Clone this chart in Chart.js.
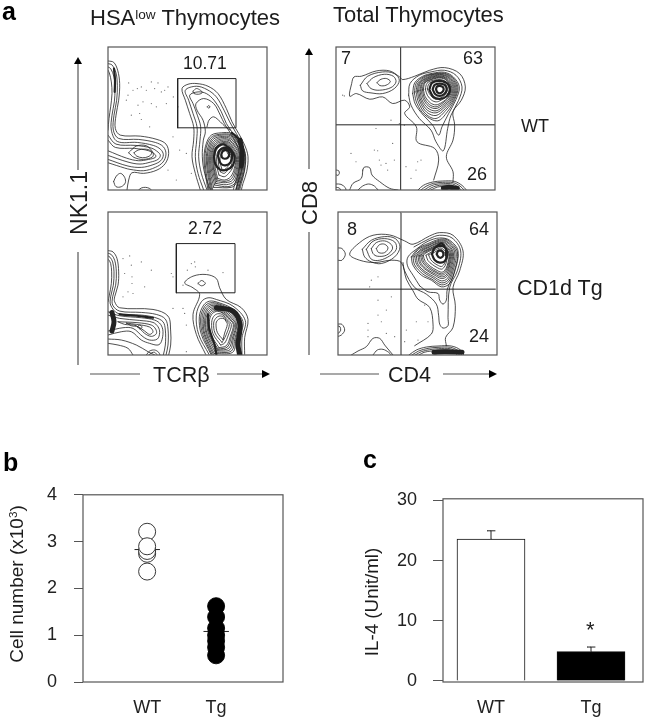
<!DOCTYPE html>
<html lang="en">
<head>
<meta charset="UTF-8">
<title>NK1.1 TCRb thymocytes</title>
<script src="https://cdn.jsdelivr.net/npm/chart.js"></script>
<style>
    html, body { margin: 0; background: #fff; }
    #page { position: relative; width: 655px; height: 719px; overflow: hidden; font-family: "Liberation Sans", Arial, sans-serif; color: #1c1c1c; }
    #page canvas { position: absolute; }
    #page svg { position: absolute; left: 0; top: 0; }
    .t { position: absolute; white-space: nowrap; line-height: 1; }
    .rot { transform: translate(-50%, -50%) rotate(-90deg); }
    .panel { font-weight: bold; font-size: 25px; color: #000; }
    sup { font-size: 0.62em; line-height: 0; vertical-align: 0.45em; }
</style>
</head>
<body>
<div id="page">
    <canvas id="p1" width="167" height="151" style="left:104px;top:43px"></canvas>
    <canvas id="p2" width="167" height="151" style="left:104px;top:208px"></canvas>
    <canvas id="p3" width="167" height="151" style="left:332px;top:43px"></canvas>
    <canvas id="p4" width="167" height="151" style="left:334px;top:208px"></canvas>
    <canvas id="chartB" width="300" height="252" style="left:0;top:467px"></canvas>
    <canvas id="chartC" width="315" height="247" style="left:340px;top:472px"></canvas>

    <svg width="655" height="719">
        <g stroke="#555" stroke-width="1.2">
            <line x1="78" y1="170" x2="78" y2="62"/><line x1="78" y1="252" x2="78" y2="365"/>
            <line x1="309" y1="169" x2="309" y2="53"/><line x1="309" y1="232" x2="309" y2="355"/>
            <line x1="90" y1="374" x2="140" y2="374"/><line x1="217" y1="374" x2="264" y2="374"/>
            <line x1="320" y1="374" x2="379" y2="374"/><line x1="443" y1="374" x2="491" y2="374"/>
        </g>
        <polygon points="78,57 74,64 82,64"/>
        <polygon points="309,48 305,55 313,55"/>
        <polygon points="270,374 262,370 262,378"/>
        <polygon points="497,374 489,370 489,378"/>
    </svg>

    <div class="t panel" style="left:2px;top:-1px">a</div>
    <div class="t panel" style="left:3px;top:450px">b</div>
    <div class="t panel" style="left:363px;top:447px">c</div>

    <div class="t" style="left:90px;top:7px;font-size:22px">HSA<sup>low</sup> Thymocytes</div>
    <div class="t" style="left:333px;top:4px;font-size:22px">Total Thymocytes</div>
    <div class="t" style="left:183px;top:55px;font-size:17.5px">10.71</div>
    <div class="t" style="left:188px;top:220px;font-size:17.5px">2.72</div>
    <div class="t" style="left:341px;top:49px;font-size:18px">7</div>
    <div class="t" style="left:463px;top:49px;font-size:18px">63</div>
    <div class="t" style="left:467px;top:165px;font-size:18px">26</div>
    <div class="t" style="left:347px;top:220px;font-size:18px">8</div>
    <div class="t" style="left:469px;top:220px;font-size:18px">64</div>
    <div class="t" style="left:469px;top:327px;font-size:18px">24</div>
    <div class="t" style="left:521px;top:117px;font-size:18px">WT</div>
    <div class="t" style="left:517px;top:278px;font-size:21.5px">CD1d Tg</div>
    <div class="t" style="left:153px;top:365px;font-size:21.5px">TCRβ</div>
    <div class="t" style="left:388px;top:365px;font-size:21.5px">CD4</div>
    <div class="t rot" style="left:79px;top:203px;font-size:23px">NK1.1</div>
    <div class="t rot" style="left:310px;top:203px;font-size:22px">CD8</div>
    <div class="t rot" style="left:16px;top:584px;font-size:19px">Cell number (x10<sup>3</sup>)</div>
    <div class="t rot" style="left:372px;top:602px;font-size:18.8px">IL-4 (Unit/ml)</div>
    <div class="t" style="left:586px;top:619px;font-size:22px">*</div>
</div>

<script>
    // flow panels: x and y in channels, 477 x 430 per plot
    const p1Gate = [[209,187],[384,187],[384,335],[209,335],[209,187]];
    const p1Contours = [
        [[0,388],[17,384],[29,360],[35,320],[32,270],[24,225],[22,185],[37,165],[97,162],[147,152],[174,138],[182,110],[172,80],[147,60],[107,50],[72,52],[62,30],[57,0]],
        [[0,380],[12,376],[24,352],[28,315],[26,270],[18,225],[16,180],[32,155],[92,152],[142,143],[166,130],[174,108],[165,84],[142,68],[107,58],[66,62],[50,66],[0,82]],
        [[0,370],[8,365],[18,340],[21,305],[19,265],[12,225],[10,180],[28,146],[88,143],[136,134],[158,122],[166,106],[158,88],[135,76],[100,68],[60,72],[0,92]],
        [[0,360],[4,352],[10,325],[12,290],[8,250],[3,215],[0,180]],
        [[0,165],[24,138],[84,134],[130,126],[150,114],[157,104],[150,92],[128,84],[96,78],[60,84],[0,104]],
        [[0,150],[22,128],[80,125],[122,118],[142,106],[142,98],[122,92],[92,88],[55,96],[0,118]],
        [[62,112],[85,132],[115,133],[134,114],[134,100],[106,92],[78,98],[62,112]],
        [[78,112],[90,120],[110,123],[128,118],[130,108],[120,100],[104,97],[86,102],[78,112]],
        [[17,25],[25,42],[38,50],[50,38],[52,22],[40,10],[24,10],[17,25]],
        [[92,0],[100,6],[112,8],[124,5],[130,0]],
        [[277,0],[262,50],[252,100],[257,150],[257,190],[245,230],[232,270],[222,305],[240,318],[267,320],[300,312],[330,290],[355,245],[372,205],[392,170],[410,135],[420,100],[416,55],[405,20],[400,0]],
        [[287,0],[270,50],[262,100],[266,150],[267,190],[255,230],[242,270],[232,300],[265,312],[297,302],[325,280],[348,240],[365,205],[385,170],[403,135],[412,100],[408,55],[397,20],[392,0]],
        [[297,0],[280,50],[272,100],[276,150],[278,190],[268,225],[255,260],[245,285],[270,295],[295,290],[318,270],[340,235],[355,200],[375,170],[395,135],[404,100],[400,55],[389,20],[384,0]],
        [[307,0],[290,50],[283,100],[286,150],[292,175],[285,210],[267,240],[264,260],[287,275],[317,260],[337,225],[349,200],[368,170],[387,135],[396,100],[392,55],[381,20],[376,0]],
        [[297,190],[303,210],[317,220],[337,205],[352,190],[367,180]],
        [[255,297],[265,305],[277,300],[283,293],[272,288],[258,290],[255,297]],
        [[298,250],[302,254],[306,250],[302,246],[298,250]],
        [[300,0],[292,50],[288,100],[295,140],[310,165],[340,172],[370,170],[395,145],[412,110],[410,60],[400,20],[395,0]],
        [[303,0],[295,50],[291,100],[298,138],[313,161],[341,168],[369,166],[392,142],[409,109],[406,60],[396,20],[391,0]],
        [[308,0],[299,50],[295,100],[302,135],[316,158],[342,165],[368,163],[390,140],[406,108],[403,60],[393,20],[388,0]],
        [[311,0],[302,50],[298,100],[305,132],[318,154],[343,161],[367,159],[387,137],[403,107],[400,60],[390,20],[385,0]],
        [[314,0],[305,50],[302,100],[308,130],[321,150],[344,158],[366,155],[385,135],[400,106],[397,60],[388,20],[383,0]],
        [[317,8],[308,52],[305,100],[311,127],[323,146],[345,154],[365,151],[382,132],[397,105],[394,60],[385,21],[370,8],[317,8]],
        [[320,15],[311,55],[308,100],[314,125],[326,143],[346,150],[364,148],[380,130],[394,104],[391,60],[382,22],[360,10],[320,15]],
        [[323,20],[314,58],[311,100],[316,123],[328,140],[347,146],[363,144],[377,127],[391,103],[388,61],[378,26],[355,16],[323,20]],
        [[325,25],[317,60],[314,100],[319,122],[331,137],[348,143],[362,141],[375,125],[388,102],[385,62],[374,30],[352,22],[325,25]],
        [[327,30],[319,62],[317,100],[321,120],[333,134],[348,140],[361,138],[373,122],[385,101],[382,64],[371,35],[351,26],[327,30]],
        [[329,35],[322,65],[320,100],[324,118],[335,131],[349,137],[360,135],[371,120],[383,100],[379,65],[368,40],[350,30],[329,35]],
        [[333,45],[327,70],[326,100],[329,114],[338,125],[350,130],[358,128],[367,116],[378,98],[374,68],[362,50],[349,40],[333,45]],
        [[337,55],[332,75],[331,98],[334,110],[341,119],[350,124],[357,122],[363,112],[373,97],[369,72],[358,58],[348,50],[337,55]],
        [[341,65],[337,80],[336,96],[339,106],[344,113],[351,118],[356,116],[360,108],[369,96],[364,76],[355,66],[347,60],[341,65]]
    ];
    const p1Dense = [
        [[372,172],[388,158],[396,148]],
        [[18,365],[21,330],[20,295]],
        [[318,100],[324,125],[340,137],[352,135],[370,120],[380,100],[375,75],[355,60],[335,62],[322,78],[318,100]],
        [[330,102],[334,118],[346,126],[360,124],[372,108],[368,84],[352,74],[338,80],[330,102]],
        [[340,108],[345,118],[356,120],[364,110],[360,98],[350,94],[342,98],[340,108]]
    ];
    const p1Band = [
        [[396,150],[402,120],[402,95],[400,72]]
    ];
    const p1Dots = [[62,322],[75,300],[88,305],[100,310],[115,300],[150,322],[170,300],[55,270],[90,255],[105,265],[130,260],[160,295],[180,310],[70,225],[95,230],[125,190],[100,212],[60,285],[140,305],[145,250],[130,325],[210,250],[195,160],[235,110],[180,60],[250,50],[205,30],[215,120],[196,280],[175,260]];

    const p2Gate = [[205,187],[381,187],[381,335],[205,335],[205,187]];
    const p2Contours = [
        [[0,314],[15,310],[27,290],[32,250],[30,210],[20,175],[20,160],[35,142],[135,137],[180,117],[188,72],[188,30],[182,0]],
        [[0,306],[10,302],[20,285],[25,250],[23,210],[14,175],[14,150],[35,132],[100,128],[145,122],[172,108],[180,78],[180,30],[174,0]],
        [[0,298],[6,294],[14,280],[18,250],[16,210],[8,175],[8,150],[30,125],[100,120],[140,113],[165,100],[172,75],[172,30],[166,0]],
        [[0,288],[3,285],[8,275],[11,250],[10,215],[4,180],[0,160]],
        [[0,130],[35,118],[100,112],[140,105],[158,92],[165,70],[160,40],[150,30],[125,35],[100,45],[70,70],[40,70],[0,60]],
        [[0,120],[35,110],[95,104],[135,98],[150,85],[155,68],[148,48],[125,45],[105,55],[75,80],[45,82],[0,72]],
        [[30,100],[90,97],[130,90],[143,78],[145,64],[130,56],[110,65],[85,88],[50,92],[30,100]],
        [[55,96],[85,92],[125,84],[135,70],[125,62],[110,72],[90,85],[70,88],[55,96]],
        [[88,85],[95,90],[102,84],[96,78],[88,85]],
        [[0,35],[30,30],[60,20],[75,0]],
        [[0,48],[40,45],[85,30],[120,10],[140,0]],
        [[115,0],[125,12],[140,15],[152,8],[156,0]],
        [[122,0],[132,7],[140,8],[148,0]],
        [[293,2],[265,62],[255,122],[275,182],[255,202],[230,217],[255,237],[295,242],[325,230],[335,202],[355,167],[400,142],[420,107],[410,52],[410,2]],
        [[303,2],[272,62],[265,120],[280,160],[300,172],[325,167],[375,147],[412,103],[402,52],[402,2]],
        [[270,215],[281,224],[292,215],[281,208],[270,215]],
        [[309,2],[280,62],[274,115],[287,150],[305,162],[330,158],[375,138],[405,100],[395,52],[395,2]],
        [[312,2],[284,62],[278,112],[290,146],[307,157],[332,154],[373,134],[401,98],[391,52],[391,2]],
        [[316,2],[288,62],[282,110],[293,142],[310,153],[335,150],[372,130],[397,97],[388,52],[388,2]],
        [[319,4],[291,62],[286,107],[296,138],[312,149],[336,146],[370,126],[393,96],[384,52],[374,8],[319,4]],
        [[322,8],[295,62],[290,105],[299,135],[315,145],[338,142],[368,122],[390,95],[381,52],[370,12],[322,8]],
        [[325,12],[298,62],[293,103],[302,131],[317,141],[339,138],[366,118],[386,94],[377,53],[366,16],[325,12]],
        [[328,15],[302,62],[297,102],[305,128],[320,138],[340,134],[364,115],[383,93],[374,54],[362,20],[328,15]],
        [[330,18],[305,62],[300,101],[308,125],[322,134],[341,130],[362,112],[379,92],[370,55],[358,24],[330,18]],
        [[333,22],[309,62],[304,100],[311,122],[325,131],[342,127],[360,110],[376,92],[367,56],[355,28],[333,22]],
        [[338,30],[315,64],[311,98],[317,116],[329,124],[344,121],[357,106],[370,92],[361,60],[350,36],[338,30]],
        [[342,38],[321,66],[317,96],[323,110],[333,117],[346,115],[355,103],[364,92],[355,62],[346,44],[342,38]],
        [[345,46],[328,68],[324,94],[328,104],[337,110],[348,109],[354,101],[358,92],[350,66],[345,46]]
    ];
    const p2Dense = [
        [[35,122],[85,118],[135,112]],
        [[300,122],[303,82],[320,30],[325,2]]
    ];
    const p2Band = [
        [[12,128],[18,100],[12,72]],
        [[325,142],[375,132],[396,92],[390,32],[395,2]]
    ];
    const p2Dots = [[45,290],[65,298],[70,270],[100,280],[50,245],[72,235],[72,215],[110,205],[60,190],[75,185],[45,175],[130,255],[190,245],[195,235],[250,275],[260,280],[262,265],[238,255],[300,255],[345,248],[225,210],[195,140],[225,140],[230,125],[235,90],[235,10]];

    const p3QuadV = [[194,0],[194,430]];
    const p3QuadH = [[0,196],[477,196]];
    const p3Contours = [
        [[293,30],[308,90],[296,125],[243,145],[241,190],[206,230],[221,250],[206,270],[170,260],[140,280],[101,273],[61,290],[41,282],[47,320],[54,340],[76,342],[121,358],[161,358],[191,340],[200,332],[236,342],[281,360],[326,368],[371,350],[388,310],[376,270],[351,235],[356,195],[351,150],[331,100],[351,55],[351,25]],
        [[73,315],[95,342],[140,355],[175,350],[190,330],[175,305],[140,290],[105,292],[80,298],[73,315]],
        [[93,320],[112,338],[145,348],[172,342],[180,325],[165,308],[130,300],[105,305],[93,320]],
        [[123,323],[135,333],[152,335],[163,326],[150,315],[132,314],[123,323]],
        [[218,285],[222,320],[250,345],[285,355],[325,360],[360,345],[378,310],[368,270],[345,225],[335,185],[322,118],[300,145],[285,180],[250,215],[225,255],[218,285]],
        [[230,290],[236,322],[260,342],[290,351],[325,354],[352,340],[370,310],[360,272],[338,230],[318,190],[308,165],[290,195],[262,225],[238,258],[230,290]],
        [[235,292],[241,322],[264,341],[292,349],[325,351],[350,338],[366,309],[356,272],[334,235],[305,208],[266,226],[243,260],[235,292]],
        [[240,295],[246,322],[268,340],[295,348],[325,349],[348,336],[363,308],[353,272],[330,240],[300,215],[270,228],[248,262],[240,295]],
        [[244,297],[250,322],[271,338],[296,346],[325,346],[346,334],[360,307],[350,273],[327,244],[300,224],[272,234],[252,265],[244,297]],
        [[248,298],[253,322],[274,337],[298,344],[325,344],[344,332],[357,306],[347,274],[324,248],[300,232],[274,240],[255,268],[248,298]],
        [[252,299],[257,322],[276,335],[299,342],[324,341],[342,330],[354,305],[344,275],[322,252],[300,238],[276,246],[258,271],[252,299]],
        [[255,300],[260,322],[279,334],[300,340],[323,339],[340,328],[351,305],[341,276],[320,256],[300,245],[278,252],[262,274],[255,300]],
        [[259,301],[264,322],[282,332],[301,338],[322,337],[338,326],[348,304],[338,278],[318,260],[300,250],[280,257],[265,277],[259,301]],
        [[262,302],[267,322],[284,331],[302,336],[322,335],[336,325],[345,304],[336,279],[317,263],[300,256],[283,262],[268,280],[262,302]],
        [[268,303],[273,321],[288,329],[304,332],[320,331],[332,322],[340,303],[331,282],[315,270],[301,265],[287,270],[274,285],[268,303]],
        [[274,304],[279,320],[292,326],[305,328],[318,327],[328,319],[335,303],[326,285],[313,276],[302,273],[291,277],[280,290],[274,304]],
        [[246,0],[262,14],[290,24],[320,27],[355,26],[378,14],[391,0]],
        [[255,0],[270,11],[292,20],[320,23],[352,22],[372,12],[384,0]],
        [[265,0],[277,8],[295,16],[322,19],[350,18],[366,9],[376,0]],
        [[275,0],[285,6],[300,12],[322,15],[348,14],[360,7],[368,0]],
        [[285,0],[295,5],[305,9],[325,11],[346,10],[355,5],[360,0]],
        [[41,0],[51,20],[76,35],[83,67],[101,67],[108,45],[131,25],[161,5],[186,0]],
        [[66,0],[80,12],[98,18],[115,12],[126,0]],
        [[0,18],[15,17],[28,7],[30,0]],
        [[0,8],[10,6],[14,0]],
        [[0,60],[8,58],[10,50],[6,44],[0,46]]
    ];
    const p3Dense = [
        [[280,302],[288,322],[308,328],[332,322],[342,302],[332,282],[312,274],[292,280],[280,302]],
        [[290,303],[296,316],[310,320],[326,316],[332,302],[324,288],[311,283],[298,288],[290,303]],
        [[300,303],[303,311],[311,313],[320,310],[323,302],[318,294],[311,291],[304,294],[300,303]]
    ];
    const p3Band = [
        [[322,6],[340,8],[364,5]]
    ];
    const p3Dots = [[45,110],[115,120],[125,118],[130,90],[150,80],[175,90],[155,60],[190,200],[20,285],[25,283],[165,210],[120,185],[210,70],[245,85],[240,60],[255,90],[80,60],[205,195],[135,75],[170,140],[60,85],[225,35]];

    const p4QuadV = [[189,0],[189,428]];
    const p4QuadH = [[0,198],[472,198]];
    const p4Contours = [
        [[230,28],[280,63],[285,93],[275,143],[240,168],[225,193],[205,228],[190,278],[160,285],[110,278],[65,285],[35,303],[65,338],[105,360],[155,361],[200,343],[225,333],[275,358],[305,368],[345,360],[375,313],[365,253],[345,203],[352,148],[345,83],[323,53],[325,28]],
        [[195,278],[200,253],[230,203],[265,183],[295,153],[302,118],[305,93],[315,81],[330,88],[330,113],[335,203],[358,253],[368,313],[342,352],[305,360],[275,350],[228,325]],
        [[245,208],[270,190],[300,185],[305,165],[315,153],[325,165],[328,198],[350,250],[360,313],[335,345],[305,352],[270,342],[235,318],[210,295],[208,270],[225,240],[245,208]],
        [[73,318],[100,345],[140,356],[172,350],[186,325],[170,295],[130,275],[100,280],[80,295],[73,318]],
        [[85,318],[105,342],[140,350],[170,340],[175,318],[155,298],[125,285],[100,288],[85,318]],
        [[100,320],[115,338],[140,343],[160,332],[163,318],[145,300],[118,297],[105,305],[100,320]],
        [[115,320],[125,332],[140,333],[150,322],[140,308],[122,308],[115,320]],
        [[0,285],[12,285],[22,303],[12,320],[0,322]],
        [[0,56],[10,60],[20,75],[12,92],[0,93]],
        [[0,65],[6,70],[8,75],[6,85],[0,87]],
        [[40,0],[60,12],[85,25],[105,50],[125,50],[140,30],[155,12],[165,0]],
        [[105,0],[118,15],[135,17],[152,8],[160,0]],
        [[220,295],[225,270],[250,240],[280,225],[310,205],[335,215],[350,255],[358,310],[330,345],[305,348],[270,335],[240,320],[220,295]],
        [[225,296],[230,271],[254,244],[282,228],[310,211],[332,220],[346,256],[354,310],[328,342],[305,345],[272,332],[242,318],[225,296]],
        [[230,297],[236,272],[258,248],[285,232],[310,217],[330,225],[343,258],[350,310],[326,340],[305,342],[273,330],[245,315],[230,297]],
        [[235,297],[240,273],[261,251],[287,236],[310,223],[328,230],[340,260],[346,309],[324,337],[305,339],[275,327],[247,313],[235,297]],
        [[240,298],[245,275],[265,255],[290,240],[310,230],[326,236],[337,262],[343,308],[322,335],[305,337],[276,325],[250,312],[240,298]],
        [[244,298],[249,276],[268,257],[291,244],[310,235],[324,240],[334,264],[340,307],[320,332],[305,334],[278,322],[253,310],[244,298]],
        [[248,298],[254,278],[272,260],[293,248],[310,240],[322,245],[332,266],[337,307],[318,330],[305,332],[279,320],[256,309],[248,298]],
        [[252,298],[258,279],[275,263],[294,251],[310,244],[320,249],[330,268],[334,306],[316,327],[305,329],[280,318],[259,307],[252,298]],
        [[256,299],[262,281],[278,266],[296,255],[310,249],[319,253],[328,270],[332,306],[315,325],[305,327],[282,316],[262,306],[256,299]],
        [[264,300],[270,284],[283,272],[299,262],[310,258],[317,262],[324,275],[327,305],[313,320],[305,322],[285,312],[270,304],[264,300]],
        [[272,301],[278,287],[288,277],[301,269],[310,266],[316,270],[321,279],[322,304],[312,316],[305,318],[290,309],[278,304],[272,301]],
        [[213,0],[235,15],[265,24],[300,27],[340,27],[368,15],[377,0]],
        [[222,0],[242,12],[270,20],[300,23],[338,23],[362,12],[371,0]],
        [[232,0],[250,10],[275,16],[302,19],[336,19],[356,10],[364,0]],
        [[243,0],[258,8],[280,12],[305,15],[334,15],[350,8],[357,0]]
    ];
    const p4Dense = [
        [[282,303],[290,322],[310,328],[324,320],[328,300],[320,282],[305,278],[290,286],[282,303]],
        [[296,303],[300,312],[306,314],[314,310],[316,300],[310,293],[302,294],[296,303]],
        [[298,328],[310,336],[318,330]],
        [[323,300],[325,318]]
    ];
    const p4Band = [
        [[288,8],[320,10],[372,8]]
    ];
    const p4Dots = [[90,95],[120,120],[145,135],[120,165],[90,75],[90,55],[130,100],[145,65],[170,55],[205,75],[235,100],[260,150],[270,100],[100,225],[95,205],[160,175],[120,235],[200,40],[240,45]];

    // cell number
    const cellCategories = ["WT", "Tg"];
    const cellTicks = [0, 1, 2, 3, 4];
    const wtCells = [3.21, 2.36, 2.74, 2.80, 2.90];
    const tgCells = [1.62, 1.39, 1.15, 1.00, 0.88, 0.74, 0.57];
    const wtCellMean = 2.83;
    const tgCellMean = 1.08;

    // IL-4
    const il4Categories = ["WT", "Tg"];
    const il4Ticks = [0, 10, 20, 30];
    const il4Values = [23.6, 4.87];
    const il4Errors = [1.36, 0.77];

    const INK = "#222";

    function toXY(pts) {
        return pts.map(p => ({ x: p[0], y: p[1] }));
    }

    function lineSet(pts, width, tension) {
        return {
            type: "scatter",
            data: toXY(pts),
            showLine: true,
            pointRadius: 0,
            borderColor: INK,
            borderWidth: width,
            borderCapStyle: "round",
            borderJoinStyle: "round",
            tension: tension
        };
    }

    const framePlugin = {
        id: "frame",
        afterDatasetsDraw(chart) {
            const a = chart.chartArea;
            const ctx = chart.ctx;
            ctx.save();
            ctx.strokeStyle = "#555";
            ctx.lineWidth = 1.2;
            ctx.strokeRect(a.left, a.top, a.right - a.left, a.bottom - a.top);
            ctx.restore();
        }
    };

    function flowPanel(id, contours, dense, band, straight, dots) {
        const datasets = [];
        straight.forEach(s => datasets.push(lineSet(s, 1, 0)));
        contours.forEach(c => datasets.push(lineSet(c, 0.8, 0.35)));
        dense.forEach(c => datasets.push(lineSet(c, 2.2, 0.35)));
        band.forEach(c => datasets.push(lineSet(c, 5, 0.35)));
        datasets.push({
            type: "scatter",
            data: toXY(dots),
            pointRadius: 0.6,
            pointBorderWidth: 0,
            pointBackgroundColor: "#666"
        });
        new Chart(document.getElementById(id), {
            type: "scatter",
            data: { datasets },
            options: {
                responsive: false,
                animation: false,
                layout: { padding: 4 },
                plugins: { legend: { display: false }, tooltip: { enabled: false } },
                scales: {
                    x: { type: "linear", display: false, min: 0, max: 477 },
                    y: { type: "linear", display: false, min: 0, max: 430 }
                }
            },
            plugins: [framePlugin]
        });
    }

    flowPanel("p1", p1Contours, p1Dense, p1Band, [p1Gate], p1Dots);
    flowPanel("p2", p2Contours, p2Dense, p2Band, [p2Gate], p2Dots);
    flowPanel("p3", p3Contours, p3Dense, p3Band, [p3QuadV, p3QuadH], p3Dots);
    flowPanel("p4", p4Contours, p4Dense, p4Band, [p4QuadV, p4QuadH], p4Dots);

    const tickFont = { family: "'Liberation Sans', Arial, sans-serif", size: 18 };

    new Chart(document.getElementById("chartB"), {
        type: "scatter",
        data: {
            datasets: [
                {
                    data: wtCells.map(v => ({ x: 1, y: v })),
                    pointRadius: 8.5,
                    pointBorderWidth: 0.9,
                    pointBorderColor: INK,
                    pointBackgroundColor: "#fff"
                },
                {
                    data: tgCells.map(v => ({ x: 2, y: v })),
                    pointRadius: 8.5,
                    pointBorderWidth: 0.9,
                    pointBorderColor: "#000",
                    pointBackgroundColor: "#000"
                },
                lineSet([[0.82, wtCellMean], [1.18, wtCellMean]], 1, 0),
                lineSet([[1.82, tgCellMean], [2.18, tgCellMean]], 1, 0)
            ]
        },
        options: {
            responsive: false,
            animation: false,
            layout: { padding: { right: 17 } },
            plugins: { legend: { display: false }, tooltip: { enabled: false } },
            scales: {
                x: {
                    type: "linear",
                    min: 0.07,
                    max: 2.97,
                    afterBuildTicks: s => { s.ticks = [{ value: 1 }, { value: 2 }]; },
                    afterFit: s => { s.height = 37; },
                    grid: { display: false },
                    border: { display: false },
                    ticks: { callback: v => cellCategories[v - 1], font: tickFont, color: INK, padding: 7, maxRotation: 0 }
                },
                y: {
                    type: "linear",
                    min: 0,
                    max: 4,
                    afterBuildTicks: s => { s.ticks = cellTicks.map(v => ({ value: v })); },
                    afterFit: s => { s.width = 83; },
                    grid: { drawOnChartArea: false, color: "#555", tickLength: 9 },
                    border: { display: false },
                    ticks: { font: tickFont, color: INK, padding: 17 }
                }
            }
        },
        plugins: [framePlugin]
    });

    new Chart(document.getElementById("chartC"), {
        data: {
            datasets: [
                lineSet([[1, il4Values[0]], [1, il4Values[0] + il4Errors[0]]], 1, 0),
                lineSet([[0.96, il4Values[0] + il4Errors[0]], [1.04, il4Values[0] + il4Errors[0]]], 1, 0),
                lineSet([[2, il4Values[1]], [2, il4Values[1] + il4Errors[1]]], 1, 0),
                lineSet([[1.96, il4Values[1] + il4Errors[1]], [2.04, il4Values[1] + il4Errors[1]]], 1, 0),
                {
                    type: "bar",
                    data: il4Values.map((v, i) => ({ x: i + 1, y: v })),
                    barThickness: 68,
                    backgroundColor: ["#fff", "#000"],
                    borderColor: "#111",
                    borderWidth: 1
                }
            ]
        },
        options: {
            responsive: false,
            animation: false,
            layout: { padding: { right: 12 } },
            plugins: { legend: { display: false }, tooltip: { enabled: false } },
            scales: {
                x: {
                    type: "linear",
                    offset: false,
                    min: 0.52,
                    max: 2.52,
                    afterBuildTicks: s => { s.ticks = [{ value: 1 }, { value: 2 }]; },
                    afterFit: s => { s.height = 37; },
                    grid: { display: false },
                    border: { display: false },
                    ticks: { callback: v => il4Categories[v - 1], font: tickFont, color: INK, padding: 7, maxRotation: 0 }
                },
                y: {
                    type: "linear",
                    min: -0.17,
                    max: 30.28,
                    afterBuildTicks: s => { s.ticks = il4Ticks.map(v => ({ value: v })); },
                    afterFit: s => { s.width = 103; },
                    grid: { drawOnChartArea: false, color: "#555", tickLength: 10 },
                    border: { display: false },
                    ticks: { font: tickFont, color: INK, padding: 16 }
                }
            }
        },
        plugins: [framePlugin]
    });
</script>
</body>
</html>
